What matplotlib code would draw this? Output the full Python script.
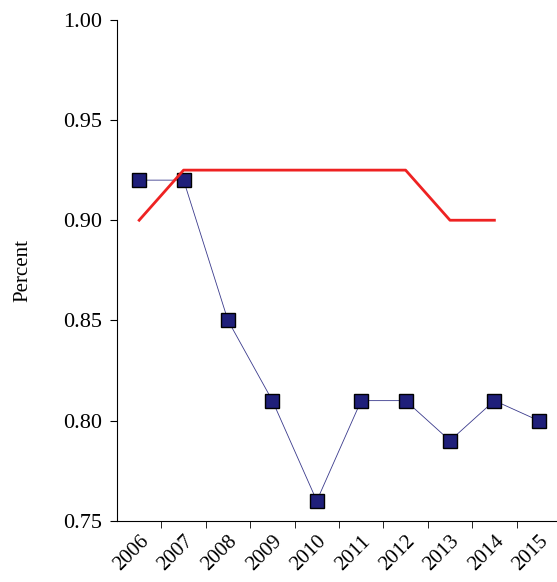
import matplotlib.pyplot as plt
import numpy as np

plt.rcParams['font.family'] = 'serif'
plt.rcParams['font.serif'] = ['Liberation Serif', 'Times New Roman', 'DejaVu Serif']

years = ["2006", "2007", "2008", "2009", "2010", "2011", "2012", "2013", "2014", "2015"]
actual = [0.92, 0.92, 0.85, 0.81, 0.76, 0.81, 0.81, 0.79, 0.81, 0.80]
target = [0.90, 0.925, 0.925, 0.925, 0.925, 0.925, 0.925, 0.90, 0.90]

fig = plt.figure(figsize=(5.57, 5.82), dpi=100)
ax = fig.add_axes([0.21, 0.105, 0.79, 0.861])

x = np.arange(len(years))
ax.plot(x, actual, color="#3a3a8c", linewidth=0.6, marker="s", markersize=10,
        markerfacecolor="#1f1f7a", markeredgecolor="black", markeredgewidth=1)
ax.plot(x[:len(target)], target, color="#ee2222", linewidth=2)

ax.set_xlim(-0.5, 9.41)
ax.set_ylim(0.75, 1.0)
yt = [0.75, 0.80, 0.85, 0.90, 0.95, 1.00]
ax.set_yticks(yt)
ax.set_yticklabels([f"{v:.2f}" for v in yt], fontsize=16)
ax.set_xticks(x)
ax.set_xticklabels(years, rotation=45, fontsize=15, ha="right", rotation_mode="anchor")
ax.tick_params(axis="x", length=0, pad=8)
ax.set_xticks(x[:-1] + 0.5, minor=True)
ax.tick_params(axis="x", which="minor", length=5, direction="out")
ax.tick_params(axis="y", length=5, direction="out", pad=6)
ax.spines["top"].set_visible(False)
ax.spines["right"].set_visible(False)
ax.set_ylabel("Percent", fontsize=15, labelpad=22)

plt.savefig("out.png", dpi=100)
plt.close()
